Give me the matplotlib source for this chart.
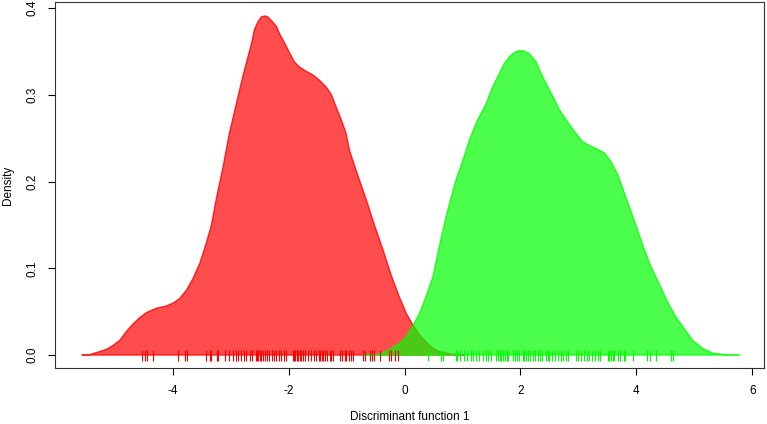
import numpy as np
import matplotlib.pyplot as plt

plt.rcParams['font.family'] = ['Liberation Sans', 'DejaVu Sans']

# density curve of group 1
red_x = [-5.57, -5.43, -5.26, -5.14, -5.03, -4.91, -4.80, -4.68, -4.57, -4.45,
         -4.28, -4.11, -3.99, -3.88, -3.76, -3.65, -3.53, -3.42, -3.33, -3.25,
         -3.13, -3.02, -2.90, -2.79, -2.70, -2.64, -2.59, -2.53, -2.47, -2.41,
         -2.36, -2.30, -2.21, -2.16, -2.07, -1.98, -1.90, -1.81, -1.69, -1.58,
         -1.47, -1.35, -1.26, -1.18, -1.09, -1.01, -0.95, -0.81, -0.66, -0.52,
         -0.37, -0.23, -0.09, 0.03, 0.14, 0.26, 0.37, 0.49, 0.60, 0.78, 1.03]
red_y = [0.0, 0.0004, 0.004, 0.0066, 0.011, 0.017, 0.027, 0.036, 0.043, 0.049,
         0.054, 0.0565, 0.060, 0.065, 0.075, 0.088, 0.106, 0.129, 0.150, 0.179,
         0.217, 0.256, 0.290, 0.321, 0.344, 0.359, 0.375, 0.384, 0.390, 0.391,
         0.390, 0.386, 0.379, 0.371, 0.360, 0.348, 0.338, 0.332, 0.327, 0.323,
         0.317, 0.309, 0.300, 0.286, 0.271, 0.256, 0.236, 0.208, 0.179, 0.150,
         0.121, 0.092, 0.067, 0.048, 0.035, 0.023, 0.015, 0.0077, 0.0038, 0.0012, 0.0]

# density curve of group 2
green_x = [-0.72, -0.43, -0.26, -0.09, 0.03, 0.14, 0.26, 0.37, 0.49, 0.60,
           0.72, 0.81, 0.89, 1.01, 1.12, 1.26, 1.41, 1.52, 1.64, 1.72,
           1.81, 1.90, 1.98, 2.07, 2.16, 2.27, 2.38, 2.53, 2.67, 2.79,
           2.93, 3.07, 3.19, 3.31, 3.45, 3.56, 3.68, 3.79, 3.91, 4.02,
           4.14, 4.25, 4.40, 4.54, 4.68, 4.83, 4.97, 5.14, 5.32, 5.55, 5.78]
green_y = [0.0, 0.001, 0.006, 0.0135, 0.021, 0.033, 0.048, 0.067, 0.090, 0.125,
           0.160, 0.183, 0.202, 0.225, 0.248, 0.271, 0.290, 0.309, 0.325, 0.336,
           0.344, 0.349, 0.351, 0.3506, 0.347, 0.338, 0.321, 0.302, 0.283, 0.271,
           0.258, 0.246, 0.2415, 0.238, 0.233, 0.223, 0.208, 0.187, 0.165, 0.144,
           0.121, 0.102, 0.081, 0.061, 0.044, 0.030, 0.017, 0.0077, 0.002, 0.0003, 0.0]

# rug positions
red_rug = [-4.53, -4.48, -4.44, -4.34, -3.91, -3.79, -3.75, -3.43, -3.36, -3.33,
           -3.23, -3.21, -3.10, -3.02, -2.96, -2.90, -2.87, -2.82, -2.77, -2.73,
           -2.67, -2.63, -2.57, -2.55, -2.52, -2.50, -2.48, -2.45, -2.41, -2.37,
           -2.33, -2.29, -2.25, -2.21, -2.17, -2.13, -2.08, -2.04, -1.93, -1.91,
           -1.89, -1.86, -1.84, -1.81, -1.78, -1.75, -1.71, -1.67, -1.61, -1.56,
           -1.52, -1.48, -1.45, -1.43, -1.40, -1.37, -1.33, -1.29, -1.26, -1.24,
           -1.12, -1.08, -1.03, -1.01, -0.95, -0.92, -0.89, -0.72, -0.69, -0.59,
           -0.56, -0.53, -0.43, -0.26, -0.23, -0.16, -0.12]
green_rug = [0.40, 0.63, 0.66, 0.89, 0.91, 0.95, 1.02, 1.08, 1.14, 1.18,
             1.24, 1.28, 1.35, 1.41, 1.44, 1.49, 1.58, 1.61, 1.64, 1.67,
             1.70, 1.74, 1.77, 1.79, 1.88, 1.91, 1.94, 1.98, 2.04, 2.07,
             2.10, 2.13, 2.16, 2.21, 2.25, 2.30, 2.34, 2.38, 2.44, 2.47,
             2.50, 2.54, 2.59, 2.64, 2.70, 2.73, 2.79, 2.82, 2.96, 3.00,
             3.05, 3.10, 3.15, 3.19, 3.23, 3.28, 3.33, 3.38, 3.51, 3.53,
             3.56, 3.59, 3.62, 3.68, 3.71, 3.78, 3.81, 3.95, 4.19, 4.24,
             4.34, 4.60, 4.64]

x_ticks = [-4, -2, 0, 2, 4, 6]
y_ticks = [0.0, 0.1, 0.2, 0.3, 0.4]

fig = plt.figure(figsize=(7.67, 4.24), dpi=100)
ax = fig.add_axes([0.0717, 0.132, 0.925, 0.863])

ax.fill(red_x, red_y, facecolor=(1, 0, 0, 0.7), edgecolor=(1, 0, 0, 0.8), lw=1)
ax.fill(green_x, green_y, facecolor=(0, 1, 0, 0.7), edgecolor=(0, 1, 0, 0.8), lw=1)

ax.vlines(red_rug, -0.007, 0.006, colors='#ff0000', lw=0.8)
ax.vlines(green_rug, -0.007, 0.006, colors='#00ff00', lw=0.8)

ax.set_xlim(-6.03, 6.21)
ax.set_ylim(-0.015, 0.407)
ax.set_xticks(x_ticks)
ax.set_xticklabels(['-4', '-2', '0', '2', '4', '6'])
ax.set_yticks(y_ticks)
ax.set_yticklabels(['0.0', '0.1', '0.2', '0.3', '0.4'], rotation=90, va='center')
ax.tick_params(direction='out', length=5, width=0.8, labelsize=8.5, pad=7)

for s in ax.spines.values():
    s.set_linewidth(0.8)
    s.set_color('#333333')

ax.set_xlabel('Discriminant function 1', fontsize=8.5, labelpad=10)
ax.set_ylabel('Density', fontsize=8.5, labelpad=9)

fig.savefig('out.png', dpi=100)
